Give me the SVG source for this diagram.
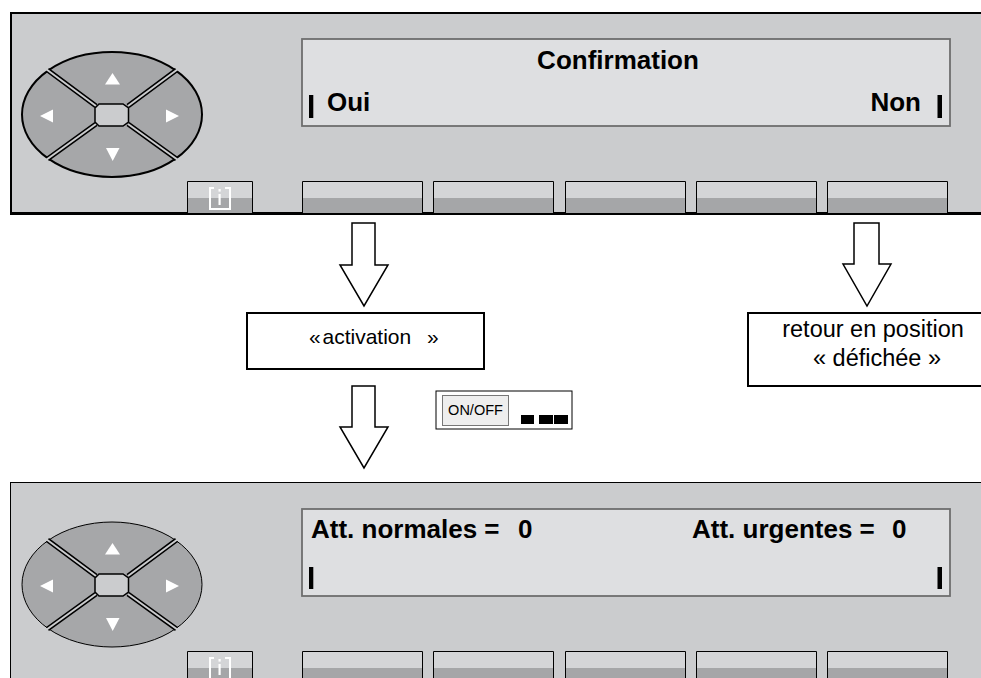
<svg xmlns="http://www.w3.org/2000/svg" xmlns:xlink="http://www.w3.org/1999/xlink" width="981" height="678" viewBox="0 0 981 678">
<style>
  .panel{fill:#cbccce;stroke:#000}
  .disp{fill:#dedfe1;stroke:#6e6e6e;stroke-width:1.8}
  .lcd{font-family:"Liberation Sans",Arial,sans-serif;font-weight:bold;font-size:26px;fill:#000}
  .lbl{font-family:"Liberation Sans",Arial,sans-serif;fill:#000}
  .cur{fill:#000}
  .ktop{fill:#d4d5d7}
  .kbot{fill:#a5a6a8}
  .kedge{fill:none;stroke:#000;stroke-width:1}
  .bigarrow{fill:#fff;stroke:#000;stroke-width:1.5;stroke-linejoin:miter}
  .box{fill:#fff;stroke:#000;stroke-width:2}
</style>
<defs>
  <g id="keypad">
    <ellipse cx="112" cy="114.5" rx="90" ry="62.5" fill="#a6a7a9" stroke="#000"/>
    <g stroke-linecap="butt">
      <path d="M96,106 L47.5,70 M128,106 L176.5,70 M96,124 L47.5,159 M128,124 L176.5,159" stroke="#000" stroke-width="5"/>
      <path d="M96,106 L46,69 M128,106 L178,69 M96,124 L46,160 M128,124 L178,160" stroke="#cbccce" stroke-width="2"/>
    </g>
    <polygon points="99,104 123,104 128.5,108 128.5,122 123,126 99,126 95,122 95,108" fill="#cbccce" stroke="#000" stroke-width="1.5"/>
    <g fill="#fff">
      <polygon points="112.5,73 105,84.5 120,84.5"/>
      <polygon points="106,148 119.5,148 112.7,161"/>
      <polygon points="40,116 53,109.5 53,122.5"/>
      <polygon points="179,116 166,109.5 166,122.5"/>
    </g>
  </g>
  <g id="softkey">
    <rect x="0" y="0" width="121" height="17" class="ktop"/>
    <rect x="0" y="17" width="121" height="17" class="kbot"/>
    <path d="M0.5,34 V0.5 H120.5 V34" class="kedge"/>
  </g>
  <g id="infokey">
    <rect x="187" y="181" width="66" height="17" class="ktop"/>
    <rect x="187" y="198" width="66" height="17" class="kbot"/>
    <path d="M187.5,215 V181.5 H252.5 V215" class="kedge"/>
    <path d="M214,188 H210 V209 H230 V188 H225" fill="none" stroke="#fff" stroke-width="2"/>
    <rect x="218.5" y="189" width="2.2" height="2.6" fill="#fff"/>
    <rect x="218.5" y="194" width="2.2" height="11" fill="#fff"/>
  </g>
</defs>

<g id="phone-top">
  <rect x="11" y="13" width="985" height="200" class="panel" stroke-width="2"/>
  <use xlink:href="#keypad" stroke-width="2"/>
  <use xlink:href="#infokey"/>
  <use xlink:href="#softkey" x="302" y="181"/>
  <use xlink:href="#softkey" x="433" y="181"/>
  <use xlink:href="#softkey" x="565" y="181"/>
  <use xlink:href="#softkey" x="696" y="181"/>
  <use xlink:href="#softkey" x="827" y="181"/>
  <line x1="10" y1="214" x2="981" y2="214" stroke="#000" stroke-width="2"/>
  <rect x="302" y="39" width="648" height="87" class="disp"/>
  <text x="618" y="69" class="lcd" text-anchor="middle">Confirmation</text>
  <text x="327" y="111" class="lcd">Oui</text>
  <text x="921" y="111" class="lcd" text-anchor="end">Non</text>
  <rect x="309" y="95" width="4.3" height="23" class="cur"/>
  <rect x="937.5" y="95" width="4.5" height="23" class="cur"/>
</g>

<g id="phone-bottom">
  <rect x="10.5" y="482.5" width="985" height="250" class="panel" stroke-width="1"/>
  <use xlink:href="#keypad" y="470" stroke-width="1"/>
  <use xlink:href="#infokey" y="470"/>
  <use xlink:href="#softkey" x="302" y="651"/>
  <use xlink:href="#softkey" x="433" y="651"/>
  <use xlink:href="#softkey" x="565" y="651"/>
  <use xlink:href="#softkey" x="696" y="651"/>
  <use xlink:href="#softkey" x="827" y="651"/>
  <rect x="302" y="509" width="648" height="87" class="disp"/>
  <text x="311" y="538" class="lcd">Att. normales =<tspan x="518">0</tspan></text>
  <text x="692" y="538" class="lcd">Att. urgentes =<tspan x="892">0</tspan></text>
  <rect x="309" y="567" width="4.3" height="22" class="cur"/>
  <rect x="937.5" y="567" width="4.5" height="22" class="cur"/>
</g>

<g id="activation">
  <rect x="247" y="313" width="237" height="56" class="box"/>
  <text y="344" class="lbl" font-size="21"><tspan x="309">«</tspan><tspan x="322.5">activation</tspan><tspan x="427">»</tspan></text>
</g>

<g id="retour">
  <rect x="748" y="313" width="240" height="73" class="box"/>
  <text x="873" y="337" class="lbl" font-size="23.5" text-anchor="middle">retour en position</text>
  <text x="877" y="366" class="lbl" font-size="23.5" text-anchor="middle">« défichée »</text>
</g>

<g id="onoff">
  <rect x="436" y="391" width="136" height="38" fill="#fff" stroke="#000" stroke-width="1"/>
  <rect x="442.5" y="395.5" width="66" height="30" fill="#eeeeee" stroke="#777" stroke-width="1"/>
  <text x="475.5" y="415" class="lbl" font-size="14.5" text-anchor="middle">ON/OFF</text>
  <rect x="521" y="415" width="13" height="9" fill="#000"/>
  <rect x="539" y="415" width="14" height="9" fill="#000"/>
  <rect x="554" y="415" width="14" height="9" fill="#000"/>
</g>

<g id="connectors">
  <polygon points="352,223 375,223 375,265 388,265 364,306 340,265 352,265" class="bigarrow"/>
  <polygon points="352,386 375,386 375,427 388,427 364,468 340,427 352,427" class="bigarrow"/>
  <polygon points="854,223 879,223 879,264 891,264 867,306 843,264 854,264" class="bigarrow"/>
</g>
</svg>
